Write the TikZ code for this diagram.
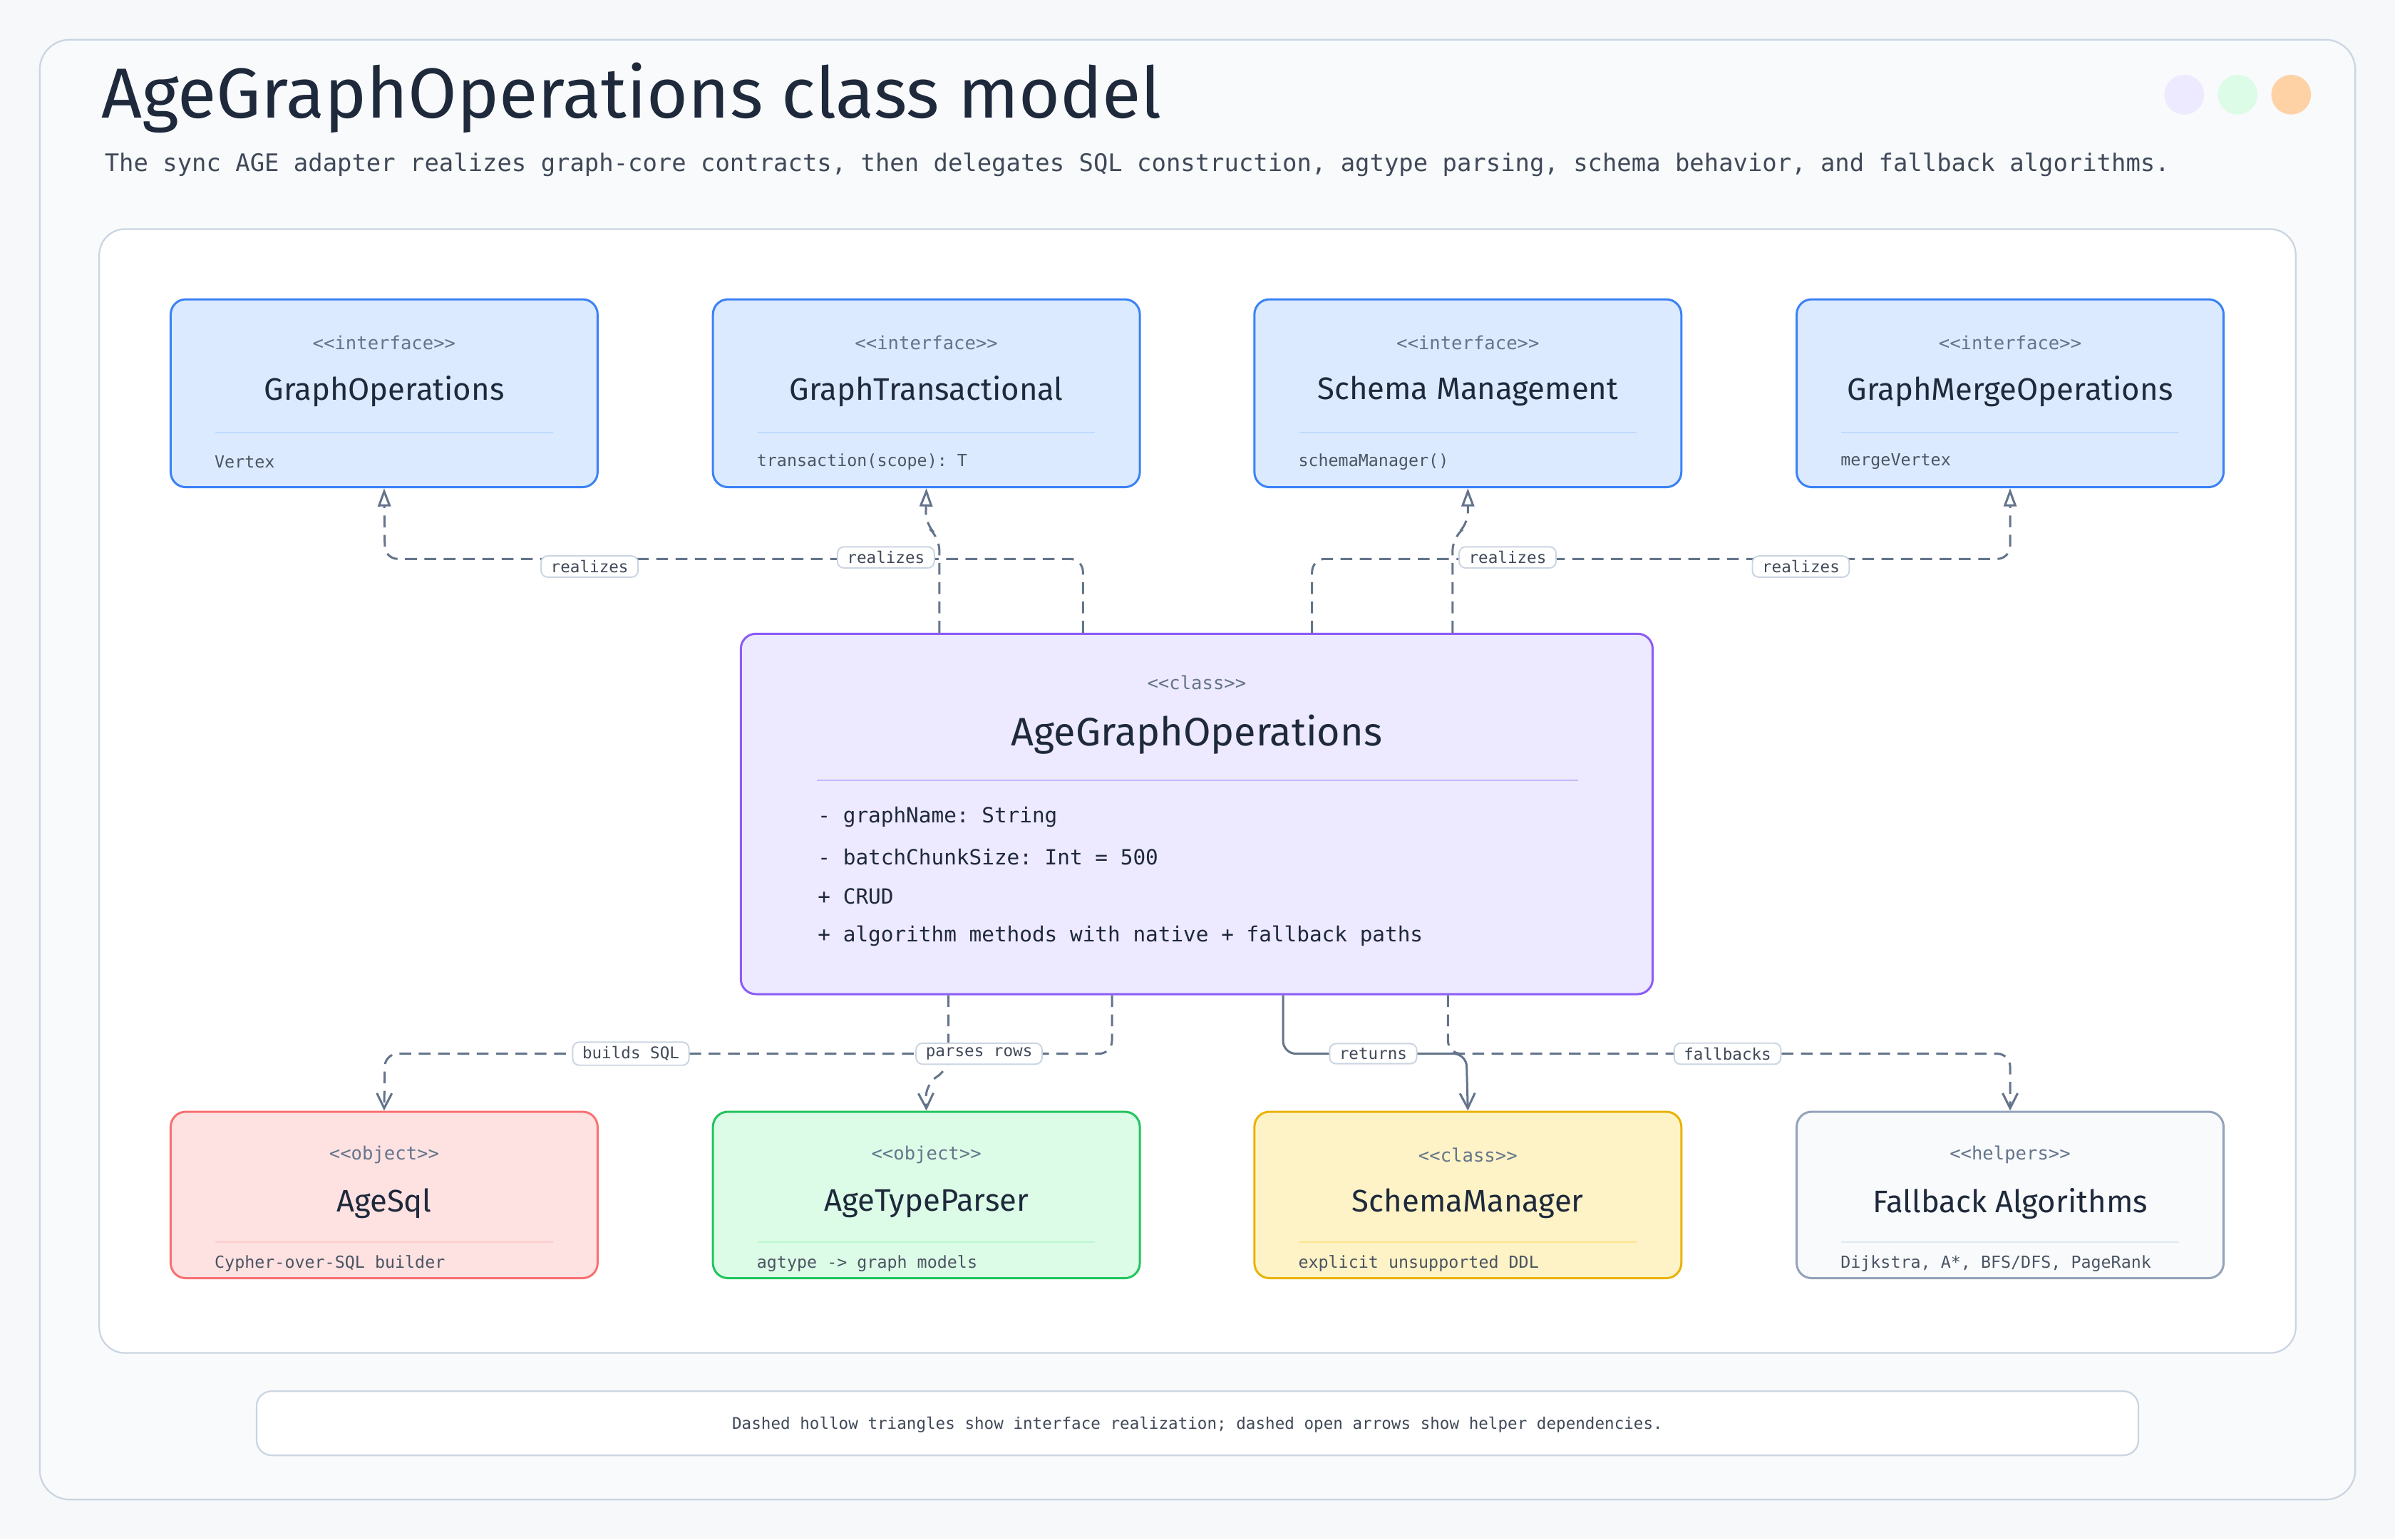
\documentclass[tikz,border=0pt]{standalone}
\usepackage{fontspec}
\setmainfont{Fira Sans}
\setmonofont{DejaVu Sans Mono}
\usetikzlibrary{arrows.meta,positioning}
\definecolor{canvas}{HTML}{F7F8FA}
\definecolor{card}{HTML}{F8FAFC}
\definecolor{rim}{HTML}{CBD5E1}
\definecolor{ink}{HTML}{1E293B}
\definecolor{muted}{HTML}{64748B}
\definecolor{edgec}{HTML}{64748B}
\definecolor{ifill}{HTML}{DBEAFE}\definecolor{iline}{HTML}{3B82F6}\definecolor{isep}{HTML}{BFDBFE}
\definecolor{cfill}{HTML}{EDE9FE}\definecolor{cline}{HTML}{8B5CF6}\definecolor{csep}{HTML}{C4B5FD}
\definecolor{rfill}{HTML}{FEE2E2}\definecolor{rline}{HTML}{F87171}\definecolor{rsep}{HTML}{FECACA}
\definecolor{gfill}{HTML}{DCFCE7}\definecolor{gline}{HTML}{22C55E}\definecolor{gsep}{HTML}{BBF7D0}
\definecolor{yfill}{HTML}{FEF3C7}\definecolor{yline}{HTML}{EAB308}\definecolor{ysep}{HTML}{FDE68A}
\definecolor{hfill}{HTML}{F8FAFC}\definecolor{hline}{HTML}{94A3B8}\definecolor{hsep}{HTML}{E2E8F0}
\tikzset{
  umlbox/.style={draw, line width=2pt, rounded corners=14pt, minimum width=13.975cm, inner sep=0pt},
  topbox/.style={umlbox, minimum height=6.15cm, fill=ifill, draw=iline},
  botbox/.style={umlbox, minimum height=5.45cm},
  stereo/.style={text=muted, font=\ttfamily\fontsize{17}{20}\selectfont},
  boxtitle/.style={text=ink, font=\fontsize{29}{34}\selectfont},
  attr/.style={anchor=west, text=ink!80, font=\ttfamily\fontsize{15.5}{19}\selectfont},
  lbl/.style={draw=rim, fill=white, line width=1.3pt, rounded corners=6pt, text=ink!85,
    font=\ttfamily\fontsize{15}{18}\selectfont, inner xsep=9pt, inner ysep=4pt},
  realize/.style={draw=edgec, line width=2pt, dash pattern=on 11pt off 7pt, rounded corners=12pt,
    -{Triangle[open, length=17pt, width=12pt]}},
  uses/.style={draw=edgec, line width=2pt, dash pattern=on 11pt off 7pt, rounded corners=12pt,
    -{Straight Barb[length=14pt, width=14pt]}},
}
\begin{document}
\begin{tikzpicture}[x=0.05cm,y=-0.05cm]
  % canvas and card
  \fill[canvas] (0,0) rectangle (1568,1008);
  \draw[rim, fill=card, line width=1.5pt, rounded corners=28pt] (26,26) rectangle (1542,982);
  \fill[cfill] (1430,62) circle (13); \fill[gfill] (1465,62) circle (13); \fill[orange!35] (1500,62) circle (13);
  \node[anchor=west, text=ink, font=\fontsize{66}{72}\selectfont] (title) at (64,64) {AgeGraphOperations class model};
  \node[anchor=west, text=ink!85, font=\ttfamily\fontsize{22.5}{26}\selectfont] (subtitle) at (66,108)
    {The sync AGE adapter realizes graph-core contracts, then delegates SQL construction, agtype parsing, schema behavior, and fallback algorithms.};
  \draw[rim, fill=white, line width=1.5pt, rounded corners=24pt] (65,150) rectangle (1503,886);
  % interfaces
  \node[topbox] (gops) at (251.5,257.5) {};
  \node[topbox] (gtx) at (606.5,257.5) {};
  \node[topbox] (schm) at (961,257.5) {};
  \node[topbox] (gmerge) at (1316,257.5) {};
  \foreach \n/\t/\a in {gops/GraphOperations/Vertex / Edge / Traversal,
      gtx/GraphTransactional/transaction(scope): T,
      schm/Schema Management/schemaManager(),
      gmerge/GraphMergeOperations/mergeVertex / mergeEdge}{
    \node[stereo] at ([yshift=-1.45cm]\n.north) {<<interface>>};
    \node[boxtitle] at ([yshift=-3.05cm]\n.north) {\t};
    \draw[isep, line width=1.5pt] ([xshift=1.5cm,yshift=-4.4cm]\n.north west) -- ([xshift=-1.5cm,yshift=-4.4cm]\n.north east);
    \node[attr] at ([xshift=1.35cm,yshift=-5.35cm]\n.north west) {\a};
  }
  % core class
  \node[umlbox, fill=cfill, draw=cline, minimum width=29.85cm, minimum height=11.8cm] (core) at (783.5,533) {};
  \node[stereo] at (783.5,447) {<<class>>};
  \node[boxtitle, font=\fontsize{37}{42}\selectfont] at (783.5,481) {AgeGraphOperations};
  \draw[csep, line width=1.5pt] (535,511) -- (1033,511);
  \foreach \y/\t in {535/- graphName: String, 561/- batchChunkSize: Int = 500,
      587/+ CRUD / traversal / merge methods, 613/+ algorithm methods with native + fallback paths}
    \node[attr, text=ink, font=\ttfamily\fontsize{19.5}{23}\selectfont] at (533,\y) {\t};
  % helpers
  \node[botbox, fill=rfill, draw=rline] (agesql) at (251.5,782.5) {};
  \node[botbox, fill=gfill, draw=gline] (parser) at (606.5,782.5) {};
  \node[botbox, fill=yfill, draw=yline] (smgr) at (961,782.5) {};
  \node[botbox, fill=hfill, draw=hline] (fallback) at (1316,782.5) {};
  \foreach \n/\s/\t/\a/\c in {agesql/object/AgeSql/Cypher-over-SQL builder/rsep,
      parser/object/AgeTypeParser/agtype -> graph models/gsep,
      smgr/class/SchemaManager/explicit unsupported DDL/ysep,
      fallback/helpers/Fallback Algorithms/{Dijkstra, A*, BFS/DFS, PageRank}/hsep}{
    \node[stereo] at ([yshift=-1.45cm]\n.north) {<<\s>>};
    \node[boxtitle] at ([yshift=-3.05cm]\n.north) {\t};
    \draw[\c, line width=1.5pt] ([xshift=1.5cm,yshift=-4.3cm]\n.north west) -- ([xshift=-1.5cm,yshift=-4.3cm]\n.north east);
    \node[attr] at ([xshift=1.35cm,yshift=-5cm]\n.north west) {\a};
  }
  % realization edges
  \draw[realize] (709,0 |- core.north) |- (252,366) -- (gops.south);
  \draw[realize] (615,0 |- core.north) -- (615,352) -- (606,344) -- (gtx.south);
  \draw[realize] (951,0 |- core.north) -- (951,352) -- (961,344) -- (schm.south);
  \draw[realize] (859,0 |- core.north) |- (1316,366) -- (gmerge.south);
  % dependency edges
  \draw[uses] (728,0 |- core.south) |- (252,690) -- (agesql.north);
  \draw[uses] (621,0 |- core.south) -- (621,700) -- (606,710) -- (parser.north);
  \draw[uses, solid] (840,0 |- core.south) |- (960,690) -- (smgr.north);
  \draw[uses] (948,0 |- core.south) |- (1316,690) -- (fallback.north);
  % edge labels
  \node[lbl] (lrealA) at (386,371) {realizes};
  \node[lbl] (lrealB) at (580,365) {realizes};
  \node[lbl] (lrealC) at (987,365) {realizes};
  \node[lbl] (lrealD) at (1179,371) {realizes};
  \node[lbl] (lsql) at (413,690) {builds SQL};
  \node[lbl] (lrows) at (641,690) {parses rows};
  \node[lbl] (lret) at (899,690) {returns};
  \node[lbl] (lfall) at (1131,690) {fallbacks};
  % legend
  \draw[rim, fill=white, line width=1.5pt, rounded corners=14pt] (168,911) rectangle (1400,953);
  \node[text=ink!85, font=\ttfamily\fontsize{15}{18}\selectfont] (legend) at (784,933)
    {Dashed hollow triangles show interface realization; dashed open arrows show helper dependencies.};
\end{tikzpicture}
\end{document}
